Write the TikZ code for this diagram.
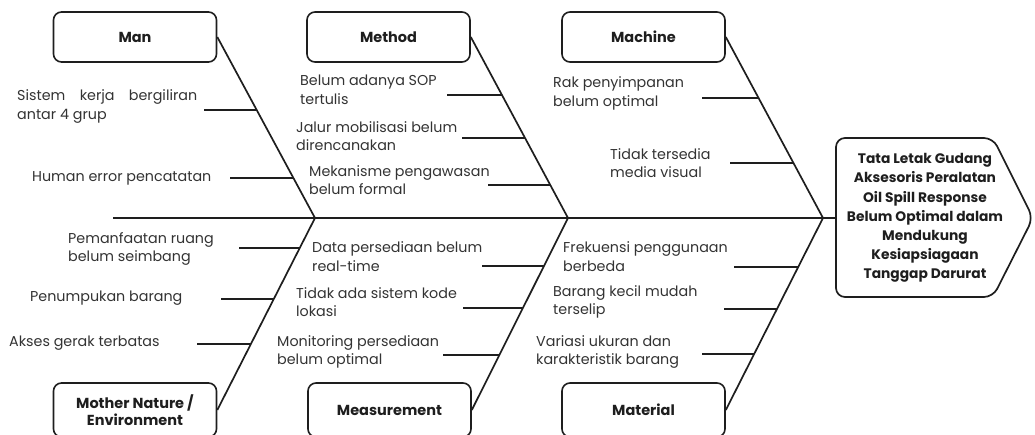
\documentclass[tikz,border=0pt]{standalone}
\usepackage{fontspec}
\setmainfont{Poppins}
\usetikzlibrary{calc}
\tikzset{>=latex}
\definecolor{txtgray}{HTML}{333333}
\definecolor{boxink}{HTML}{1E1E1E}
\tikzset{
	catbox/.style={draw=boxink, line width=1.6pt, rounded corners=8pt, minimum width=163pt, minimum height=50pt, align=center, text=boxink, font=\bfseries\fontsize{14.5}{17}\selectfont},
	bone/.style={draw=boxink, line width=1.7pt},
	rib/.style={draw=boxink, line width=1.7pt},
	cause/.style={anchor=west, align=left, inner sep=0pt, text=txtgray, font=\fontsize{14.3}{18.5}\selectfont},
	effect/.style={align=center, text=boxink, font=\bfseries\fontsize{13.8}{19.2}\selectfont}
}

\begin{document}
\begin{tikzpicture}[x=1pt,y=-1pt]
		\useasboundingbox (0,0) rectangle (1035,434);
		\clip (0,0) rectangle (1035,434);
		% joints on the spine
		\coordinate (tail) at (113,218);
		\coordinate (j1) at (315,218);
		\coordinate (j2) at (568,218);
		\coordinate (j3) at (823,218);
		\coordinate (headw) at (836,218);
		% categories
		\node[catbox] (man) at (135,37) {Man};
		\node[catbox] (method) at (388.5,37) {Method};
		\node[catbox] (machine) at (643.5,37) {Machine};
		\node[catbox, minimum height=54pt] (mother) at (135,410) {Mother Nature /\\Environment};
		\node[catbox, minimum height=54pt] (measure) at (389.5,410) {Measurement};
		\node[catbox, minimum height=54pt] (material) at (643.5,410) {Material};
		% head
		\draw[bone, rounded corners=9pt] (836,138) -- (993,138) -- (1033,218) -- (993,297) -- (836,297) -- cycle;
		\node[effect] (problem) at (925,218) {Tata Letak Gudang\\Aksesoris Peralatan\\Oil Spill Response\\Belum Optimal dalam\\Mendukung\\Kesiapsiagaan\\Tanggap Darurat};
		% spine and bones
		\draw[bone] (tail) -- (headw);
		\draw[bone] (man.east) -- coordinate[pos=.403] (m1) coordinate[pos=.779] (m2) (j1);
		\draw[bone] (method.east) -- coordinate[pos=.320] (d1) coordinate[pos=.558] (d2) coordinate[pos=.818] (d3) (j2);
		\draw[bone] (machine.east) -- coordinate[pos=.337] (c1) coordinate[pos=.696] (c2) (j3);
		\draw[bone] (mother.east) -- coordinate[pos=.344] (e3) coordinate[pos=.578] (e2) coordinate[pos=.844] (e1) (j1);
		\draw[bone] (measure.east) -- coordinate[pos=.286] (s3) coordinate[pos=.531] (s2) coordinate[pos=.750] (s1) (j2);
		\draw[bone] (material.east) -- coordinate[pos=.292] (t3) coordinate[pos=.526] (t2) coordinate[pos=.745] (t1) (j3);
		% ribs
		\draw[rib] (m1) -- ++(-53,0);
		\draw[rib] (m2) -- ++(-63,0);
		\draw[rib] (d1) -- ++(-55,0);
		\draw[rib] (d2) -- ++(-63,0);
		\draw[rib] (d3) -- ++(-62,0);
		\draw[rib] (c1) -- ++(-57,0);
		\draw[rib] (c2) -- ++(-63,0);
		\draw[rib] (e1) -- ++(-61,0);
		\draw[rib] (e2) -- ++(-53,0);
		\draw[rib] (e3) -- ++(-54,0);
		\draw[rib] (s1) -- ++(-62,0);
		\draw[rib] (s2) -- ++(-60,0);
		\draw[rib] (s3) -- ++(-56,0);
		\draw[rib] (t1) -- ++(-64,0);
		\draw[rib] (t2) -- ++(-53,0);
		\draw[rib] (t3) -- ++(-52,0);
		% causes
		\node[cause] (m1t) at (17,106.5) {\hbox to 180pt{Sistem\hfill kerja\hfill bergiliran}\\antar 4 grup};
		\node[cause] (m2t) at (32,178) {Human error pencatatan};
		\node[cause] (d1t) at (300,90) {Belum adanya SOP\\tertulis};
		\node[cause] (d2t) at (296,136) {Jalur mobilisasi belum\\direncanakan};
		\node[cause] (d3t) at (309,180) {Mekanisme pengawasan\\belum formal};
		\node[cause] (c1t) at (553,93.5) {Rak penyimpanan\\belum optimal};
		\node[cause] (c2t) at (610,163) {Tidak tersedia\\media visual};
		\node[cause] (e1t) at (68,249) {Pemanfaatan ruang\\belum seimbang};
		\node[cause] (e2t) at (30,298) {Penumpukan barang};
		\node[cause] (e3t) at (9,343) {Akses gerak terbatas};
		\node[cause] (s1t) at (312,256.5) {Data persediaan belum\\real-time};
		\node[cause] (s2t) at (296,302) {Tidak ada sistem kode\\lokasi};
		\node[cause] (s3t) at (277,352) {Monitoring persediaan\\belum optimal};
		\node[cause] (t1t) at (563,256.5) {Frekuensi penggunaan\\berbeda};
		\node[cause] (t2t) at (553,302) {Barang kecil mudah\\terselip};
		\node[cause] (t3t) at (536,352) {Variasi ukuran dan\\karakteristik barang};
\end{tikzpicture}
\end{document}
